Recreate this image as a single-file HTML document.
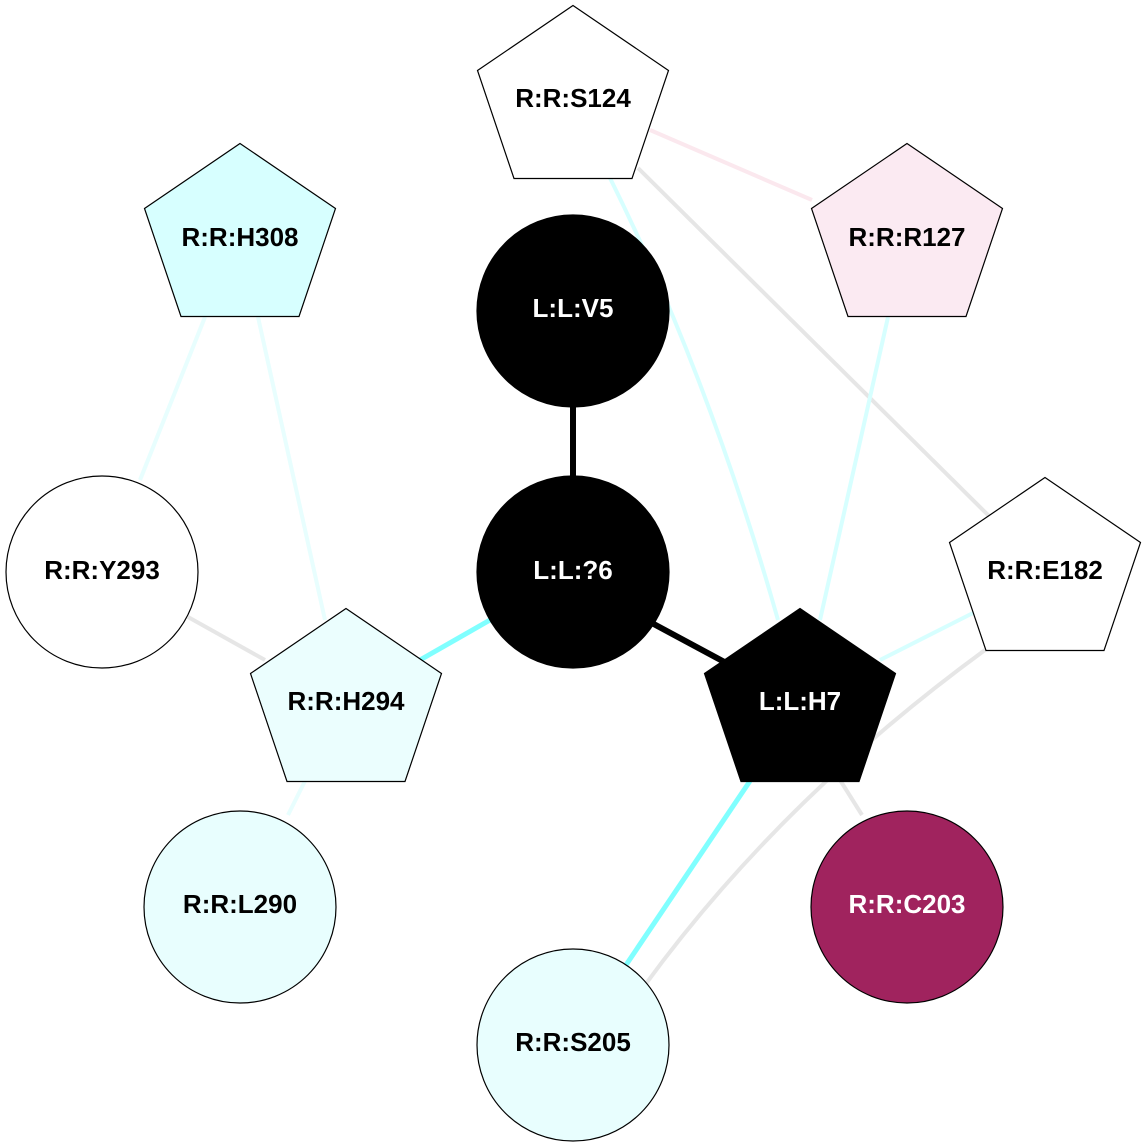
<!DOCTYPE html>
<html><head><style>html,body{margin:0;padding:0;background:#fff}svg{display:block}text{font-family:"Liberation Sans",sans-serif;font-weight:bold;font-size:26px;text-anchor:middle;dominant-baseline:central}</style></head>
<body>
<svg width="1147" height="1147" viewBox="0 0 1147 1147" xmlns="http://www.w3.org/2000/svg">
<defs>
<polygon id="pg" points="0,-96.5 95.5,-31.5 59,76.5 -59,76.5 -95.5,-31.5"/>
</defs>
<g fill="none" stroke-linecap="butt">
<line x1="205" y1="317" x2="140" y2="480" stroke="#e8fefe" stroke-width="4"/>
<line x1="258" y1="317" x2="325" y2="620" stroke="#e8fefe" stroke-width="4"/>
<line x1="188" y1="617" x2="265" y2="660" stroke="#e6e6e6" stroke-width="4"/>
<line x1="305" y1="781" x2="288" y2="815" stroke="#e8fefe" stroke-width="4"/>
<line x1="650" y1="130" x2="812" y2="200" stroke="#fbe8ee" stroke-width="4"/>
<line x1="638" y1="168" x2="990" y2="517" stroke="#e6e6e6" stroke-width="4"/>
<path d="M610,178 Q710,380 778,620" stroke="#d7ffff" stroke-width="4"/>
<line x1="888" y1="317" x2="820" y2="620" stroke="#d7ffff" stroke-width="4"/>
<line x1="975" y1="612" x2="880" y2="660" stroke="#d7ffff" stroke-width="4"/>
<path d="M985,650 Q780,800 645,985" stroke="#e6e6e6" stroke-width="4"/>
<line x1="840" y1="780" x2="862" y2="815" stroke="#e6e6e6" stroke-width="4"/>
<line x1="490" y1="620" x2="420" y2="660" stroke="#80ffff" stroke-width="5"/>
<line x1="750" y1="781" x2="626" y2="965" stroke="#80ffff" stroke-width="5"/>
<line x1="573" y1="400" x2="573" y2="480" stroke="#000" stroke-width="6"/>
<line x1="650" y1="622" x2="730" y2="665" stroke="#000" stroke-width="6"/>
</g>
<g stroke="#000" stroke-width="1.2">
<use href="#pg" x="573" y="102" fill="#fff"/>
<use href="#pg" x="907" y="240" fill="#fbeaf2"/>
<use href="#pg" x="240" y="240" fill="#d7ffff"/>
<circle cx="573" cy="311" r="96" fill="#000"/>
<circle cx="573" cy="572" r="96" fill="#000"/>
<circle cx="102" cy="572" r="96" fill="#fff"/>
<use href="#pg" x="346" y="705" fill="#ebfefe"/>
<use href="#pg" x="800" y="705" fill="#000"/>
<use href="#pg" x="1045" y="574" fill="#fff"/>
<circle cx="240" cy="907" r="96" fill="#e8fefe"/>
<circle cx="907" cy="907" r="96" fill="#a0235e"/>
<circle cx="573" cy="1045" r="96" fill="#e8fefe"/>
</g>
<text x="573" y="98">R:R:S124</text>
<text x="907" y="237">R:R:R127</text>
<text x="240" y="237">R:R:H308</text>
<text x="573" y="308" fill="#fff">L:L:V5</text>
<text x="573" y="570" fill="#fff">L:L:?6</text>
<text x="102" y="570">R:R:Y293</text>
<text x="346" y="701">R:R:H294</text>
<text x="800" y="701" fill="#fff">L:L:H7</text>
<text x="1045" y="570">R:R:E182</text>
<text x="240" y="904">R:R:L290</text>
<text x="907" y="904" fill="#fff">R:R:C203</text>
<text x="573" y="1042">R:R:S205</text>
</svg>
</body></html>
